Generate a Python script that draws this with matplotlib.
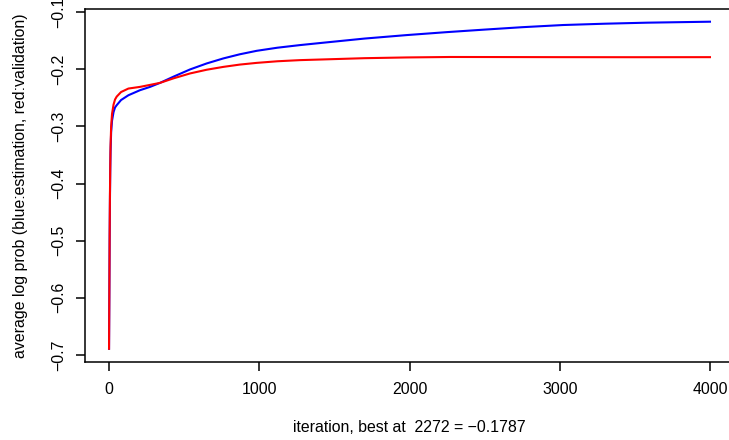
import numpy as np
import matplotlib.pyplot as plt

plt.rcParams['font.family'] = ['Liberation Sans', 'DejaVu Sans']

# values
est_iter = [0, 2, 4, 6, 8, 10, 14, 20, 30, 40, 51, 80, 129, 206, 273, 339,
            430, 539, 650, 761, 870, 983, 1120, 1271, 1424, 1700, 1981,
            2250, 2500, 2750, 3022, 3300, 3580, 3800, 4000]
est_logp = [-0.689, -0.60, -0.50, -0.43, -0.38, -0.345, -0.31, -0.29, -0.275,
            -0.267, -0.263, -0.254, -0.2456, -0.2368, -0.231, -0.224, -0.2130,
            -0.2005, -0.1900, -0.1812, -0.1740, -0.1679, -0.1625, -0.1579,
            -0.1538, -0.1465, -0.1404, -0.1352, -0.1308, -0.1266, -0.1228,
            -0.1205, -0.1187, -0.1178, -0.117]

val_iter = [0, 2, 4, 6, 8, 10, 14, 20, 30, 40, 51, 80, 129, 206, 273, 339,
            430, 539, 650, 761, 870, 983, 1120, 1271, 1424, 1700, 1981, 2272,
            2535, 3000, 3500, 4000]
val_logp = [-0.689, -0.59, -0.49, -0.42, -0.37, -0.335, -0.30, -0.278, -0.262,
            -0.253, -0.248, -0.240, -0.2339, -0.231, -0.2275, -0.224, -0.2160,
            -0.2075, -0.2010, -0.1960, -0.1920, -0.1890, -0.1862, -0.1842,
            -0.1830, -0.1808, -0.1795, -0.1787, -0.1788, -0.1790, -0.1791,
            -0.1790]

x_ticks = [0, 1000, 2000, 3000, 4000]
y_ticks = [-0.7, -0.6, -0.5, -0.4, -0.3, -0.2, -0.1]

best_iter = 2272
best_val = -0.1787

fig = plt.figure(figsize=(7.29, 4.40), dpi=100)
ax = fig.add_axes([85 / 729, 78.1 / 440, 649 / 729, 353 / 440])

ax.plot(est_iter, est_logp, color="#0000FF", linewidth=1.5)
ax.plot(val_iter, val_logp, color="#FF0000", linewidth=1.5)

# R style 4% range extension
ax.set_xlim(-160, 4160)
ax.set_ylim(-0.712, -0.0946)

ax.set_xticks(x_ticks)
ax.set_xticklabels([str(t) for t in x_ticks])
ax.set_yticks(y_ticks)
ax.set_yticklabels([f"{t:.1f}".replace("-", "\u2212") for t in y_ticks])
for lbl in ax.get_yticklabels():
    lbl.set_rotation(90)
    lbl.set_va("center")

ax.tick_params(direction="out", length=6.5, width=1.1, labelsize=11.4, colors="black")
ax.tick_params(axis="x", pad=8)
ax.tick_params(axis="y", pad=7)
for s in ax.spines.values():
    s.set_linewidth(1.1)

ax.set_xlabel(f"iteration, best at  {best_iter} = {best_val}".replace("-", "\u2212"), fontsize=11.4)
ax.set_ylabel("average log prob (blue:estimation, red:validation)", fontsize=11.4)
ax.xaxis.label.set_va("center")
ax.yaxis.label.set_va("center")
ax.xaxis.set_label_coords(0.5, -0.187)
ax.yaxis.set_label_coords(-0.100, 0.5)

fig.savefig("out.png", dpi=100)
